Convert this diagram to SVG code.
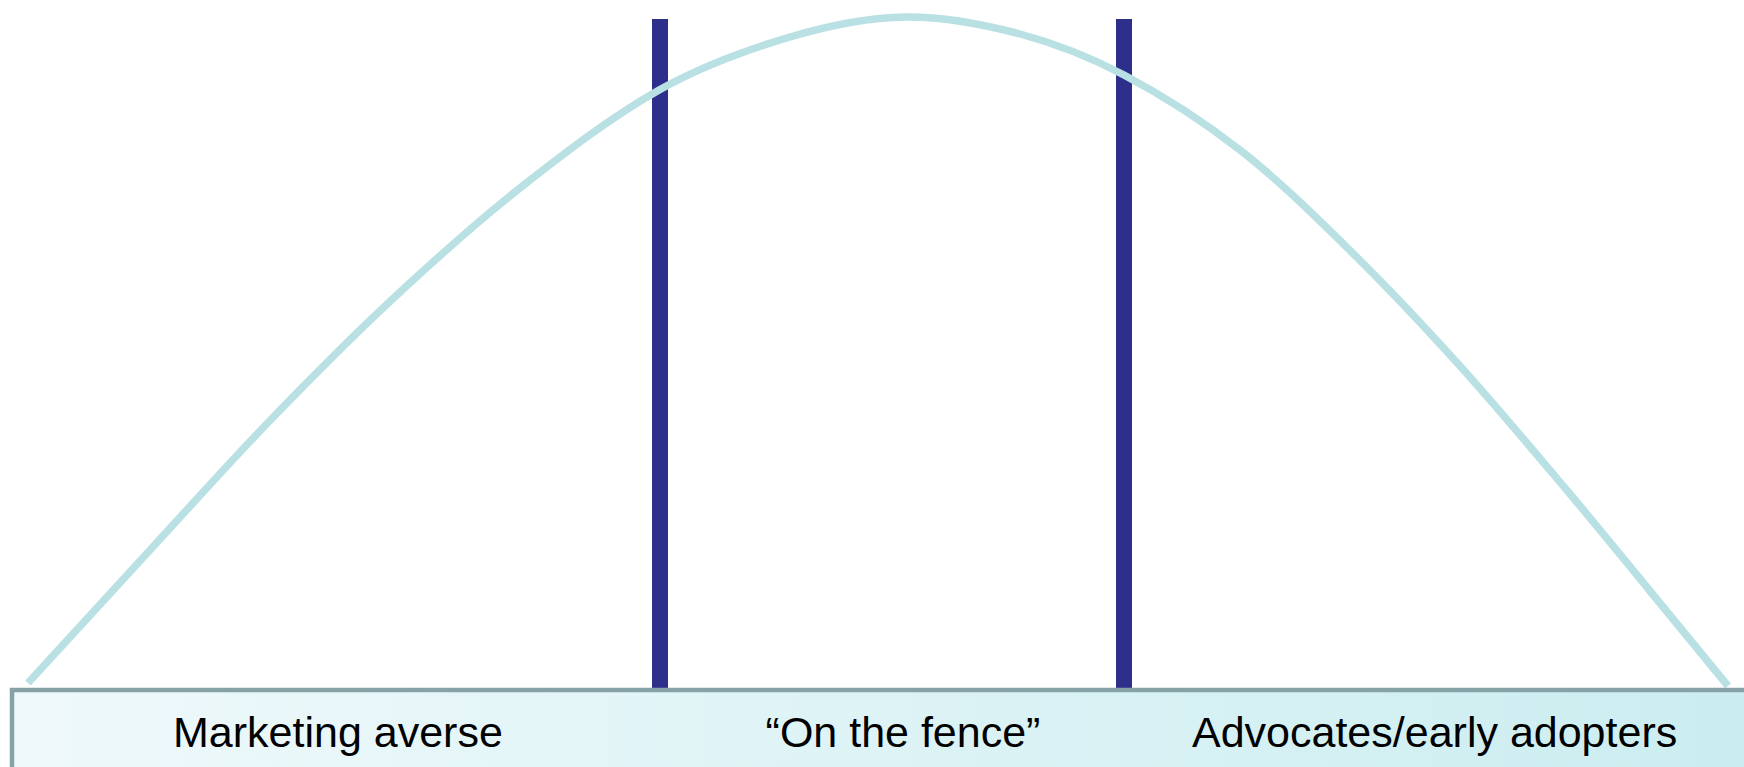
<svg xmlns="http://www.w3.org/2000/svg" width="1744" height="767" viewBox="0 0 1744 767">
<defs>
<linearGradient id="barFill" x1="0" y1="0" x2="1" y2="0">
<stop offset="0" stop-color="#eff9fb"/>
<stop offset="1" stop-color="#cbedf0"/>
</linearGradient>
</defs>
<style>
.lbl{font-family:"Liberation Sans",Arial,sans-serif;font-size:43px;fill:#000}
.divider{fill:#2e2e8b}
.curve{fill:none;stroke:#b9e0e3;stroke-width:7.5}
</style>
<rect width="1744" height="767" fill="#fff"/>
<g id="dividers">
<rect id="divider-left" class="divider" x="652" y="19" width="16" height="671"/>
<rect id="divider-right" class="divider" x="1116" y="19" width="16" height="671"/>
</g>
<g id="connectors">
<path class="curve" d="M28,683 C68.67,638.7 109.33,594.1 150,550 C190,506.6 230,461.9 270,420.5 C310.5,378.6 351,337.7 391.5,300 C434.33,260.2 477.17,221.6 520,188 C566.67,151.4 613.33,115.6 660,89.5 C703.33,65.3 746.67,49.8 790,37 C828.33,25.7 866.67,17.5 905,17 C943.33,16.5 981.67,23.8 1020,34 C1054.67,43.2 1089.33,56.7 1124,75 C1162.67,95.4 1201.33,120 1240,150 C1276.67,178.5 1313.33,214.5 1350,250.5 C1386.67,286.5 1423.33,325.4 1460,366 C1496.67,406.6 1533.33,450.6 1570,494 C1596.67,525.6 1623.33,558.6 1650,591 C1676,622.6 1702,654.3 1728,686"/>
</g>
<g id="segment-bar">
<rect x="12" y="690" width="1760" height="100" fill="url(#barFill)" stroke="#87a2a6" stroke-width="4.5"/>
</g>
<g id="label-averse"><text class="lbl" x="173" y="747">Marketing averse</text></g>
<g id="label-fence"><text class="lbl" x="903" y="747" text-anchor="middle">“On the fence”</text></g>
<g id="label-advocates"><text class="lbl" x="1192" y="747">Advocates/early adopters</text></g>
</svg>
